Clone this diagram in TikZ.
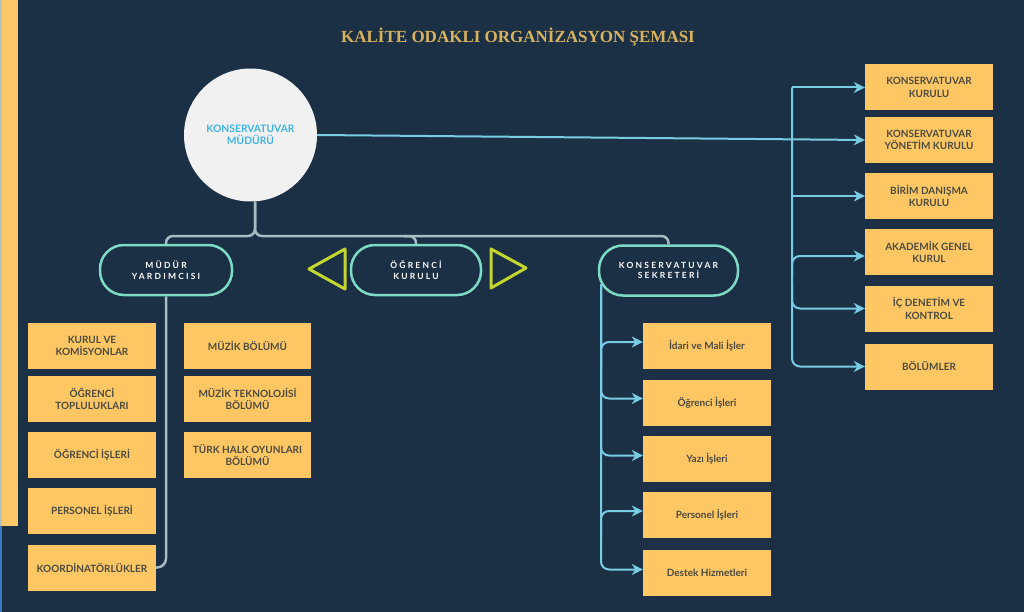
\documentclass[tikz,border=0pt]{standalone}
\usepackage{fontspec}
\setmainfont{Lato}
\newfontfamily\titlefont{Liberation Serif}
\newfontfamily\spacedfont{Lato}[LetterSpace=26]
\usetikzlibrary{arrows.meta}
\definecolor{navy}{HTML}{1B2F45}
\definecolor{stripyellow}{HTML}{FDC86A}
\definecolor{edgeblue}{HTML}{3A78C0}
\definecolor{edgegray}{HTML}{AFC4C0}
\definecolor{boxyellow}{HTML}{FEC763}
\definecolor{boxtext}{HTML}{4A4A40}
\definecolor{circlegray}{HTML}{F1F1F1}
\definecolor{circletext}{HTML}{3CB4E5}
\definecolor{treegray}{HTML}{A9BCC4}
\definecolor{mint}{HTML}{7DDAC5}
\definecolor{arrowblue}{HTML}{78CDE4}
\definecolor{trigreen}{HTML}{C3D72E}
\definecolor{titlegold}{HTML}{D8B25C}

\begin{document}
\begin{tikzpicture}[x=1pt,y=-1pt,
  box/.style={fill=boxyellow, text=boxtext, minimum width=128pt, minimum height=46pt, inner sep=2pt, align=center, font=\fontsize{10}{12.5}\selectfont\bfseries},
  pill/.style={draw=mint, line width=2.5pt, rounded corners=24pt, minimum height=50pt, text=white, align=center, font=\spacedfont\fontsize{8.5}{10.5}\selectfont\bfseries},
  tree/.style={draw=treegray, line width=2.5pt, rounded corners=7pt},
  arr/.style={draw=arrowblue, line width=2pt, rounded corners=8pt, -{Stealth[length=11pt,width=11pt,inset=3.5pt]}},
  tri/.style={draw=trigreen, line width=3pt, line join=round},
]
\useasboundingbox (0,0) rectangle (1024,612);
\fill[navy] (0,0) rectangle (1024,612);
\fill[edgeblue] (0,0) rectangle (2,612);
\fill[edgegray] (0,0) rectangle (2,526);
\fill[stripyellow] (2,0) rectangle (18,526);

\node[font=\titlefont\bfseries\fontsize{17}{20}\selectfont, text=titlegold] (title) at (518,37) {KALİTE ODAKLI ORGANİZASYON ŞEMASI};

% top
\node[circle, fill=circlegray, minimum size=133pt, text=circletext, align=center, font=\fontsize{10.3}{12}\selectfont\bfseries] (mudur) at (250.5,135) {KONSERVATUVAR\\MÜDÜRÜ};

% second level
\node[pill, minimum width=132pt] (yard) at (166,270) {MÜDÜR\\YARDIMCISI};
\node[pill, minimum width=130pt] (ogr) at (416,270) {ÖĞRENCİ\\KURULU};
\node[pill, minimum width=139pt] (sekr) at (668.5,270.5) {KONSERVATUVAR\\SEKRETERİ};
\draw[tri] (309,269) -- (345,249) -- (345,289) -- cycle;
\draw[tri] (491,249) -- (526,268) -- (491,288) -- cycle;

\coordinate (split) at (255,236);
\draw[tree] (yard.north) -- (yard.north |- split) -- (split) -- (split |- mudur.south);
\draw[tree] (split |- mudur.south) -- (split) -- (sekr.north |- split) -- (sekr.north);
\draw[tree] (ogr.north) -- (ogr.north |- split) -- ++(-12,0);

% mudur yardimcisi
\node[box] (kurul) at (92,346) {KURUL VE\\KOMİSYONLAR};
\node[box] (topl) at (92,399) {ÖĞRENCİ\\TOPLULUKLARI};
\node[box] (ogrisl) at (92,455) {ÖĞRENCİ İŞLERİ};
\node[box] (persisl) at (92,511) {PERSONEL İŞLERİ};
\node[box] (koord) at (92,567.5) {KOORDİNATÖRLÜKLER};
\node[box, minimum width=127pt] (muzik) at (247.5,346) {MÜZİK BÖLÜMÜ};
\node[box, minimum width=127pt] (muztek) at (247.5,399) {MÜZİK TEKNOLOJİSİ\\BÖLÜMÜ};
\node[box, minimum width=127pt] (thob) at (247.5,455) {TÜRK HALK OYUNLARI\\BÖLÜMÜ};
\draw[tree, rounded corners=9pt] (yard.south) -- (yard.south |- koord.east) -- (koord.east);

% sekreter
\node[box] (idari) at (707,346) {İdari ve Mali İşler};
\node[box] (sogr) at (707,402.5) {Öğrenci İşleri};
\node[box] (yazi) at (707,458.5) {Yazı İşleri};
\node[box] (spers) at (707,515) {Personel İşleri};
\node[box] (destek) at (707,572.5) {Destek Hizmetleri};
\coordinate (sbus) at (601,284);
\draw[arr] (sbus) |- ([yshift=3pt]destek.west);
\draw[arr] (sbus |- idari.south) |- ([yshift=4pt]idari.west);
\draw[arr] (sbus) |- ([yshift=4pt]sogr.west);
\draw[arr] (sbus) |- ([yshift=3pt]yazi.west);
\draw[arr] (sbus |- spers.south) |- ([yshift=4pt]spers.west);

% kurullar
\node[box] (kkur) at (929,87.5) {KONSERVATUVAR\\KURULU};
\node[box] (yon) at (929,140) {KONSERVATUVAR\\YÖNETİM KURULU};
\node[box] (birim) at (929,196) {BİRİM DANIŞMA\\KURULU};
\node[box] (akad) at (929,252) {AKADEMİK GENEL\\KURUL};
\node[box] (ic) at (929,308.5) {İÇ DENETİM VE\\KONTROL};
\node[box] (bol) at (929,366.5) {BÖLÜMLER};
\coordinate (rx) at (792,0);
\draw[arr] (rx |- kkur.west) -- (kkur.west);
\draw[arr] (rx |- kkur.west) |- (bol.west);
\draw[arr] (rx |- birim.west) -- (birim.west);
\draw[arr] (rx |- akad.south) |- ([yshift=-4pt]akad.west);
\draw[arr] (rx |- ic.north) |- (ic.west);
\draw[arr, rounded corners=0pt] (mudur.east) -- (yon.west);
\end{tikzpicture}
\end{document}
